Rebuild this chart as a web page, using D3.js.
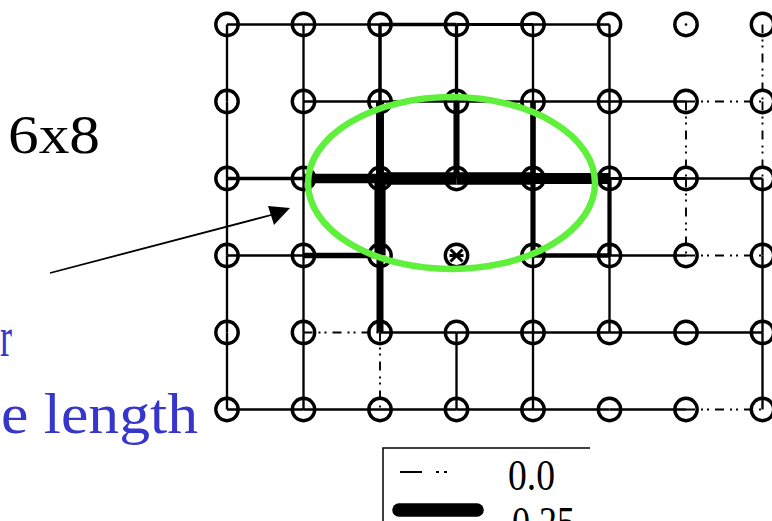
<!DOCTYPE html>
<html><head><meta charset="utf-8">
<script src="https://cdn.jsdelivr.net/npm/d3@7"></script>
<style>html,body{margin:0;padding:0;background:#fff;overflow:hidden}</style>
</head><body>
<svg id="c" width="772" height="521"></svg>
<script>
// grid 6 rows x 8 columns
const nRows = 6, nCols = 8;
// horizontal edge values: row r, between column c and c+1 (null = no edge)
const hValues = [
  [-0.01, -0.01, -0.03, -0.02, -0.01, null, null],
  [null, -0.01, -0.01, -0.01, -0.01, -0.01, 0.0],
  [-0.035, -0.16, -0.23, -0.225, -0.2, -0.02, -0.01],
  [-0.01, -0.075, null, null, -0.06, -0.01, 0.0],
  [null, 0.0, -0.01, -0.01, -0.01, -0.01, -0.01],
  [-0.01, -0.01, -0.01, -0.01, -0.01, -0.01, 0.0]
];
// vertical edge values: between row r and r+1, per column
const vValues = [
  [-0.01, -0.01, -0.035, -0.03, -0.01, -0.01, null, 0.0],
  [-0.01, -0.01, -0.13, -0.09, -0.08, -0.01, 0.0, 0.0],
  [-0.01, -0.01, -0.2, null, -0.07, -0.05, 0.0, -0.01],
  [-0.01, -0.01, -0.11, null, -0.01, -0.01, null, -0.01],
  [-0.01, -0.01, 0.0, -0.01, -0.01, null, null, -0.01]
];
const crossedNode = [3, 3];   // [col, row]
const dottedNode = [6, 0];
const legendValues = [0.0, -0.25];
const legendLabels = ["0.0", "-0.25"];
const titleText = "6x8";
const noteLines = ["r", "e length"];

const svg = d3.select("#c");
const x = d3.scaleLinear().domain([0, nCols - 1]).range([227, 762.5]);
const y = d3.scaleLinear().domain([0, nRows - 1]).range([24.5, 409.5]);
const w = d3.scaleLinear().domain([0, -0.25]).range([1.9, 13.5]);
const zeroDash = "9,6,2,4,2,6";
const serif = "Liberation Serif, Times New Roman, serif";

const edges = [];
hValues.forEach((row, r) => row.forEach((v, c) => {
  if (v !== null) edges.push({x1: c, y1: r, x2: c + 1, y2: r, v});
}));
vValues.forEach((row, r) => row.forEach((v, c) => {
  if (v !== null) edges.push({x1: c, y1: r, x2: c, y2: r + 1, v});
}));
edges.sort((a, b) => b.v - a.v);

svg.append("g").selectAll("line").data(edges).join("line")
  .attr("x1", d => x(d.x1)).attr("y1", d => y(d.y1))
  .attr("x2", d => x(d.x2)).attr("y2", d => y(d.y2))
  .attr("stroke", "#000")
  .attr("stroke-width", d => w(d.v))
  .attr("stroke-dasharray", d => d.v >= 0 ? zeroDash : null);

const nodes = [];
for (let r = 0; r < nRows; r++) for (let c = 0; c < nCols; c++) nodes.push({c, r});
svg.append("g").selectAll("circle").data(nodes).join("circle")
  .attr("cx", d => x(d.c)).attr("cy", d => y(d.r)).attr("r", 11.2)
  .attr("fill", "none").attr("stroke", "#000").attr("stroke-width", 3.4);

// special nodes
const cx0 = x(crossedNode[0]), cy0 = y(crossedNode[1]);
svg.append("path")
  .attr("d", `M${cx0-6},${cy0-6}L${cx0+6},${cy0+6}M${cx0+6},${cy0-6}L${cx0-6},${cy0+6}M${cx0-7},${cy0}L${cx0+7},${cy0}`)
  .attr("stroke", "#000").attr("stroke-width", 3);
svg.append("circle").attr("cx", x(dottedNode[0])).attr("cy", y(dottedNode[1]))
  .attr("r", 1.3).attr("fill", "#000");

// green ellipse
svg.append("ellipse").attr("cx", 451.5).attr("cy", 183).attr("rx", 143.5).attr("ry", 86)
  .attr("fill", "none").attr("stroke", "#5ef03a").attr("stroke-width", 6.5);

// arrow
svg.append("line").attr("x1", 50).attr("y1", 273).attr("x2", 275).attr("y2", 214)
  .attr("stroke", "#000").attr("stroke-width", 1.8);
svg.append("path").attr("d", "M290,208L268,206L274,225Z").attr("fill", "#000");

// texts
svg.append("text").attr("x", 8).attr("y", 153)
  .attr("font-family", serif).attr("font-size", 55)
  .attr("textLength", 92).attr("lengthAdjust", "spacingAndGlyphs").text(titleText);
svg.append("text").attr("x", 0).attr("y", 356)
  .attr("font-family", serif).attr("font-size", 58)
  .attr("textLength", 12).attr("lengthAdjust", "spacingAndGlyphs")
  .attr("fill", "#3636cc").text(noteLines[0]);
svg.append("text").attr("x", 1).attr("y", 433)
  .attr("font-family", serif).attr("font-size", 58)
  .attr("textLength", 197).attr("lengthAdjust", "spacingAndGlyphs")
  .attr("fill", "#3636cc").text(noteLines[1]);

// legend
svg.append("path").attr("d", "M383,530V448H590").attr("fill", "none")
  .attr("stroke", "#000").attr("stroke-width", 1.5);
const lg = svg.append("g");
lg.selectAll("line").data(legendValues).join("line")
  .attr("x1", (d, i) => i === 0 ? 400 : 399).attr("x2", (d, i) => i === 0 ? 447 : 477)
  .attr("y1", (d, i) => 472 + i * 38).attr("y2", (d, i) => 472 + i * 38)
  .attr("stroke", "#000").attr("stroke-width", d => w(d))
  .attr("stroke-linecap", d => d < 0 ? "round" : "butt")
  .attr("stroke-dasharray", d => d >= 0 ? "22,14,3,5,3,20" : null);
lg.selectAll("text").data(legendLabels).join("text")
  .attr("x", (d, i) => i === 0 ? 508 : 500).attr("y", (d, i) => 490 + i * 47)
  .attr("font-family", serif).attr("font-size", 44)
  .attr("textLength", (d, i) => i === 0 ? 47 : 75).attr("lengthAdjust", "spacingAndGlyphs")
  .text(d => d);
</script>
</body></html>
